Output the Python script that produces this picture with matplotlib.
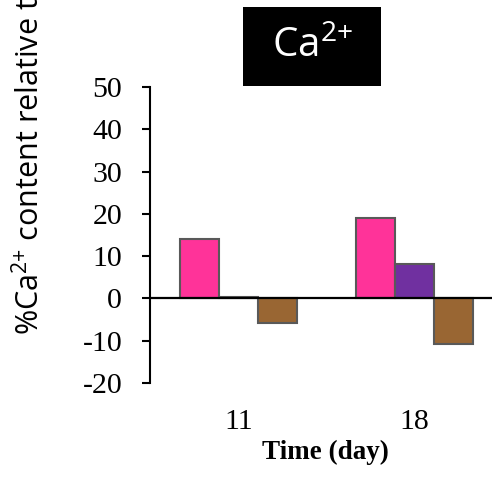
import matplotlib
matplotlib.use("Agg")
import matplotlib.pyplot as plt
from matplotlib.patches import Rectangle
import numpy as np

plt.rcParams['mathtext.fontset'] = 'custom'
plt.rcParams['mathtext.rm'] = 'Open Sans'
plt.rcParams['mathtext.it'] = 'Open Sans:italic'
plt.rcParams['mathtext.bf'] = 'Open Sans:bold'

categories = ["11", "18"]
series_a = [14.1, 19.0]    # pink
series_b = [0.3, 8.2]      # purple
series_c = [-5.7, -10.8]   # brown
yticks = [-20, -10, 0, 10, 20, 30, 40, 50]

colors = ["#FF3399", "#7030A0", "#996633"]
edge = "#595959"

fig = plt.figure(figsize=(4.92, 4.78), dpi=100)
ax = fig.add_axes([150/492, (478-383)/478, 342/492, 296/478])

x = np.arange(len(categories))
w = 0.222
for i, (vals, c) in enumerate(zip([series_a, series_b, series_c], colors)):
    ax.bar(x + (i - 1) * w, vals, width=w, color=c, edgecolor=edge, linewidth=1.5, zorder=2)

ax.axhline(0, color="black", linewidth=1.6, zorder=3)
ax.set_xlim(-0.503, 1.44)
ax.set_ylim(-20, 50)
ax.set_yticks(yticks)
ax.set_yticklabels([str(v) for v in yticks], fontfamily="Liberation Serif", fontsize=21.5)
ax.tick_params(axis="y", direction="out", length=6, width=1.5, pad=14)
ax.set_xticks(x)
ax.set_xticklabels(categories, fontfamily="Liberation Serif", fontsize=21.5)
ax.tick_params(axis="x", length=0, pad=19)

for s in ["top", "right", "bottom"]:
    ax.spines[s].set_visible(False)
ax.spines["left"].set_linewidth(1.5)

# x label
fig.text(325/492, 1 - 452/478, "Time (day)", fontfamily="Liberation Serif", fontweight="bold",
         fontsize=19.5, ha="center", va="center")

# y label (cut off at top as in reference)
fig.text(30/492, 1 - 335/478, r"%Ca$\mathregular{^{2{+}}}$ content relative to control",
         fontfamily="Open Sans", fontsize=22, rotation=90, ha="center", va="bottom")

# title box
fig.patches.append(Rectangle((243/492, 1 - 86/478), 138/492, 79/478, transform=fig.transFigure,
                             facecolor="black", edgecolor="none"))
fig.text(312/492, 1 - 47/478, r"Ca$\mathregular{^{2{+}}}$", color="white", fontfamily="Open Sans",
         fontsize=29, ha="center", va="center")

fig.savefig("out.png", dpi=100)
